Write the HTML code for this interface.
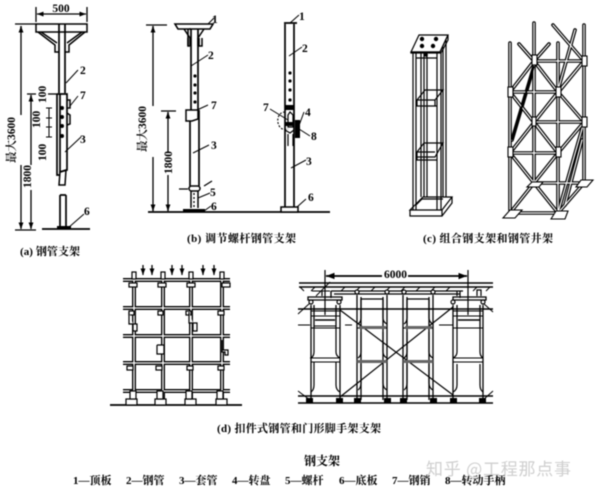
<!DOCTYPE html>
<html><head><meta charset="utf-8"><style>
html,body{margin:0;padding:0;background:#fff;width:600px;height:492px;overflow:hidden}
svg{display:block;filter:blur(.4px)}
text{font-family:"Liberation Serif","Noto Serif CJK SC",serif;fill:#000}
.n{font-size:11.5px;font-weight:600}
.c{font-size:11px;font-weight:700}
.l{font-size:11px;font-weight:700}
</style></head><body>
<svg width="600" height="492" viewBox="0 0 600 492" xmlns="http://www.w3.org/2000/svg">
<defs>
<marker id="a" viewBox="0 0 8 6" refX="8" refY="3" markerWidth="5" markerHeight="4" orient="auto-start-reverse"><path d="M0 0L8 3L0 6z" fill="#000"/></marker>
<g id="cp">
<path d="M510 43V210M534 23V183M558 43V213M584 25V183"/>
<path d="M534 61H584M510 92H558M534 122H584M510 153H558M534 183H584M510 213H558"/>
<path d="M510 92L534 61L558 92L584 61M510 92L558 153M558 92L510 153M534 122L584 61M558 92L584 122M534 122L558 153L584 122"/>
<path d="M510 153L558 213M558 153L510 213M534 183L510 213M558 213L584 183"/>
<path d="M519 44L534 61L549 44M575 30L558 90M553 25L584 61"/>
<path d="M558 213L584 122M565 205L582 140M534 66L512 140"/>
</g>
<g id="dp"><path d="M134 272V400M163 272V400M191 272V400M222 272V400"/><path d="M123 280H230M123 308H230M123 336H230M123 363H230M123 391H230"/></g>
</defs>
<rect width="600" height="492" fill="#fff"/>

<!-- a -->
<g fill="none" stroke="#000" stroke-width="1.3">
<path d="M36 7V22M87 7V22"/><path d="M37 14H86" marker-start="url(#a)" marker-end="url(#a)"/>
<path d="M15 24H36M15 230H36M21 26V115M21 165V228"/>
<path d="M21 30V26" marker-end="url(#a)"/><path d="M21 224V229" marker-end="url(#a)"/>
<path d="M27 94H36M31 95V165M31 190V228"/><path d="M31 99V95" marker-end="url(#a)"/><path d="M31 224V229" marker-end="url(#a)"/>
<path d="M48 94H57"/>
<path d="M36 24H87V32H36Z" stroke-width="1.5"/>
<path d="M59 24V93M65 24V93" stroke-width="1.7"/>
<path d="M38 32L55 45V52H59M41 32L57 43M85 32L69 45V52H65M82 32L67 43" stroke-width="1.5"/>
<path d="M57 94H67V170L60 172V94M57 94V175H60" stroke-width="1.7"/>
<path d="M60 172L66 170L65 185H59Z" stroke-width="1.5"/>
<path d="M60 195H66M60 195V227M66 195V227" stroke-width="1.7"/>
<path d="M42 229H90" stroke-width="1.7"/>
<path d="M67 100H70V108H67M67 113L70 115V124L67 125" stroke-width="1.5"/>
<path d="M46 108H52M46 118H52M46 127H52M46 137H52M49 108V137" stroke-width="1"/>
<path d="M66 83L78 70M65 152L81 137M70 106L78 96M68 228L84 214" stroke-width="1"/>
</g>
<rect x="57" y="226" width="14" height="3" fill="#000"/>
<g fill="#000"><circle cx="62" cy="108" r="2"/><circle cx="62" cy="117" r="2"/><circle cx="62" cy="126" r="2"/><circle cx="62" cy="136" r="2"/></g>
<text class="n" x="61" y="12" text-anchor="middle">500</text>
<text class="n" x="80" y="74">2</text><text class="n" x="80" y="99">7</text><text class="n" x="80" y="143">3</text><text class="n" x="84" y="215">6</text>
<text class="n" transform="translate(46,103) rotate(-90)">100</text>
<text class="n" transform="translate(40,128) rotate(-90)">100</text>
<text class="n" transform="translate(46,161) rotate(-90)">100</text>
<text class="n" transform="translate(31,188) rotate(-90)" textLength="23">1800</text>
<text class="n" transform="translate(15,163) rotate(-90)">最大3600</text>
<text class="c" x="20" y="255" textLength="60">(a) 钢管支架</text>

<!-- b -->
<g fill="none" stroke="#000" stroke-width="1.3">
<path d="M146 25H167M153 26V106M153 157V211"/><path d="M153 32V26" marker-end="url(#a)"/><path d="M153 205V211" marker-end="url(#a)"/>
<path d="M161 111H176M168 112V152M168 175V211"/><path d="M168 119V112" marker-end="url(#a)"/><path d="M168 205V211" marker-end="url(#a)"/>
<path d="M175 24H213L210 29H178Z" stroke-width="1.6"/>
<path d="M191 29V110M198 29V110" stroke-width="1.7"/>
<path d="M184 29L190 38V46M204 29L198 38V46M189 29H191M188 38V46H190" stroke-width="1.5"/>
<path d="M199 38V46H202V38M188 29V46" stroke-width="1.5"/>
<path d="M186 110H198V119L192 121H186Z" stroke-width="1.5"/>
<path d="M190 121V186M199 110V186" stroke-width="1.7"/>
<path d="M179 189H188M204 186L212 181"/>
<rect x="189" y="186" width="11" height="5" rx="2.5" stroke-width="1.5"/>
<path d="M191 191V208M198 191V208" stroke-width="1.5"/>
<path d="M194 193V208" stroke-dasharray="2 2"/>
<path d="M148 212H330" stroke-width="1.7"/>
<path d="M208 24L214 18M191 66L208 55M197 110L208 105M193 153L209 145M198 198L210 193M204 211L211 206" stroke-width="1"/>
<path d="M284 23H297M285 24V211M294 24V211" stroke-width="1.7"/>
<path d="M290 23L299 15M289 56L302 47M291 168L306 160" stroke-width="1"/>
<path d="M281 207H298V212H281Z" fill="#fff" stroke-width="1.5"/>
<path d="M297 207L306 199M297 131L304 112M299 129L310 136M270 109L288 120" stroke-width="1"/>
<path d="M285 112C274 112 276 133 288 129" stroke-dasharray="2 1.5" stroke-width="1.1"/>
<path d="M288 115V127H293V115L290 112ZM285 130L290 133L294 130M288 134V146M293 134V146" stroke-width="1.2"/>
</g>
<rect x="183" y="209" width="22" height="3" fill="#000"/>
<rect x="285" y="105" width="9" height="5" fill="#000"/>
<rect x="295" y="120" width="5" height="18" fill="#000"/>
<rect x="285" y="122" width="9" height="4" fill="#000"/>
<g fill="#000"><circle cx="195" cy="76" r="1.6"/><circle cx="195" cy="85" r="1.6"/><circle cx="195" cy="93" r="1.6"/><circle cx="195" cy="102" r="1.6"/><circle cx="290" cy="73" r="1.6"/><circle cx="290" cy="81" r="1.6"/><circle cx="290" cy="90" r="1.6"/><circle cx="290" cy="100" r="1.6"/></g>
<text class="n" x="212" y="23">1</text><text class="n" x="208" y="59">2</text><text class="n" x="211" y="109">7</text><text class="n" x="211" y="149">3</text><text class="n" x="210" y="196">5</text><text class="n" x="211" y="210">6</text>
<text class="n" x="299" y="20">1</text><text class="n" x="302" y="52">2</text><text class="n" x="263" y="111">7</text><text class="n" x="305" y="116">4</text><text class="n" x="311" y="140">8</text><text class="n" x="306" y="165">3</text><text class="n" x="308" y="201">6</text>
<text class="n" transform="translate(146,152) rotate(-90)">最大3600</text>
<text class="n" transform="translate(172,174) rotate(-90)" textLength="23">1800</text>
<text class="c" x="187" y="242" textLength="109">(b) 调节螺杆钢管支架</text>

<!-- c left -->
<g fill="none" stroke="#000" stroke-width="1.2">
<path d="M411 52L419 35H448L440 52Z" fill="#fff"/>
<path d="M411 52H440V53H411ZM440 52L448 35V40L441 53"/>
<path d="M413 53V210M416 53V210M437 53V210M441 53V210M443 47V197M446 40V197M421 53V197M424 53V197M427 53V197"/>
<path d="M416 58H437"/>
<path d="M417 100L425 90H443L435 100ZM417 100V106H435V100M417 106H437"/>
<path d="M417 152L424 143H443L435 157H417ZM417 152H435M417 157V160H437"/>
<path d="M410 210L423 197H452L442 210ZM410 210V216H442V210M442 216L452 203V197"/>
<path d="M416 205L422 199H443"/>
</g>
<g fill="#000"><circle cx="422" cy="39" r="2.2"/><circle cx="436" cy="39" r="2.2"/><circle cx="422" cy="46" r="2.2"/><circle cx="433" cy="46" r="2.2"/><circle cx="426" cy="55" r="1.8"/></g>

<!-- c right -->
<g fill="none" stroke-linecap="round">
<use href="#cp" stroke="#000" stroke-width="3.6"/>
<use href="#cp" stroke="#fff" stroke-width="1.2"/>
</g>
<g fill="#fff" stroke="#000" stroke-width="1.1">
<rect x="532" y="55" width="5" height="10"/><rect x="582" y="56" width="5" height="10"/><rect x="508" y="87" width="5" height="10"/><rect x="556" y="87" width="5" height="10"/><rect x="532" y="117" width="4" height="9"/><rect x="582" y="117" width="5" height="10"/><rect x="508" y="147" width="5" height="10"/><rect x="556" y="147" width="5" height="10"/>
<path d="M503 218L510 210H522L515 218ZM551 219L556 211H568L565 219ZM527 187L532 182H543L539 187ZM576 187L581 180H593L587 187Z"/>
</g>
<path d="M534 66L512 140" stroke="#000" stroke-width="1.8"/>
<text class="c" x="423" y="242" textLength="130">(c) 组合钢支架和钢管井架</text>

<!-- d -->
<g fill="none"><use href="#dp" stroke="#000" stroke-width="4"/><use href="#dp" stroke="#fff" stroke-width="1.3"/></g>
<g fill="none" stroke="#000" stroke-width="1.3">
<path d="M143 265V275" marker-end="url(#a)"/><path d="M152 265V275" marker-end="url(#a)"/><path d="M172 265V275" marker-end="url(#a)"/><path d="M182 265V275" marker-end="url(#a)"/><path d="M203 265V275" marker-end="url(#a)"/><path d="M214 265V275" marker-end="url(#a)"/>
<path d="M110 405H242" stroke-width="1.7"/>
</g>
<g fill="#fff" stroke="#000" stroke-width="1.2">
<rect x="126" y="399" width="11" height="6"/><rect x="155" y="399" width="11" height="6"/><rect x="185" y="399" width="11" height="6"/><rect x="216" y="399" width="11" height="6"/>
<rect x="129" y="283" width="8" height="4"/><rect x="158" y="283" width="8" height="4"/><rect x="187" y="283" width="8" height="4"/><rect x="222" y="283" width="8" height="4"/>
<rect x="129" y="311" width="5" height="4"/><rect x="158" y="311" width="5" height="4"/><rect x="186" y="311" width="5" height="4"/><rect x="218" y="311" width="6" height="4"/>
<path d="M129 312V324H133V331H137V324H133"/><path d="M189 312V323H193V331H197V323H193"/>
<path d="M157 345V354H164V345M157 345H164"/><path d="M222 340V352H225V355H228V350H222"/>
<rect x="130" y="391" width="6" height="8"/><rect x="157" y="391" width="6" height="8"/><rect x="186" y="391" width="6" height="8"/><rect x="217" y="391" width="6" height="8"/>
<rect x="127" y="366" width="6" height="4"/><rect x="156" y="366" width="6" height="4"/><rect x="187" y="366" width="6" height="4"/><rect x="218" y="366" width="6" height="4"/>
<rect x="132" y="272" width="4" height="7"/><rect x="161" y="272" width="4" height="7"/><rect x="189" y="272" width="4" height="7"/><rect x="220" y="272" width="4" height="7"/>
</g>
<text class="c" x="217" y="432" textLength="164">(d) 扣件式钢管和门形脚手架支架</text>

<!-- e -->
<g fill="none" stroke="#000">
<path d="M299 283H493M299 287H493" stroke-width="1.5"/>
<path d="M331 291H463" stroke-width="1.3"/><path d="M331 291V298M334 294H460M460 291V298" stroke-width="1.2"/>
<path d="M312 291H330M300 287L304 291M315 287L311 291M345 287L341 291M360 287L356 291M375 287L371 291M390 287L386 291M405 287L401 291M420 287L416 291M435 287L431 291M450 287L446 291M477 287L473 291M490 287L486 291" stroke-width="1"/>
<path d="M325 270V315M468 270V315" stroke-width="1.2"/>
<path d="M326 276H382M408 276H467" stroke-width="1.7" marker-start="url(#a)" marker-end="url(#a)"/>
<path d="M308 297H342V300H308ZM453 297H486V300H453Z" stroke-width="1.3"/>
<path d="M322 296V291M331 296V291M457 296V291M477 296V290H481V296" stroke-width="1.2"/>
<path d="M316 296L330 282" stroke-width="1"/>
<path d="M311 305V400M314 305V328M336 305V328M340 305V400M453 305V400M457 305V328M480 305V328M483 305V400" stroke-width="1.3"/>
<path d="M357 295V400M361 297V400M383 297V400M387 295V400M403 295V400M407 297V400M429 297V400M433 295V400" stroke-width="1.3"/>
<path d="M298 396H493M298 403H493M298 309H493M315 320H335M458 320H480" stroke-width="1.4"/>
<path d="M298 325H310M439 325H453M345 325H352M298 314L310 303M483 303L493 312M298 391L310 400M483 400L493 391" stroke-width="1"/>
<path d="M311 328H340M314 326H336M357 328H387M403 328H433M453 328H483" stroke-width="1.1"/>
<path d="M314 328V352Q314 356 311 358M336 328V352Q336 356 340 358M314 362V385Q314 390 311 392M336 362V385Q336 390 340 392" stroke-width="1.2"/>
<path d="M361 299H383M361 299V318Q361 322 358 324M383 299V318Q383 322 387 324M361 332V352Q361 356 358 358M383 332V352Q383 356 387 358M361 364V383Q361 388 358 390M383 364V383Q383 388 387 390" stroke-width="1.2"/>
<path d="M407 299H429M407 299V318Q407 322 404 324M429 299V318Q429 322 433 324M407 332V352Q407 356 404 358M429 332V352Q429 356 433 358M407 364V383Q407 388 404 390M429 364V383Q429 388 433 390" stroke-width="1.2"/>
<path d="M457 328V352Q457 356 453 358M480 328V352Q480 356 483 358M457 364V385Q457 390 453 392M480 364V385Q480 390 483 392" stroke-width="1.2"/>
<path d="M340 310L453 395M340 397L453 307" stroke-width="1.2"/>
<path d="M311 362H340M357 362H387M403 362H433M453 362H483M310 358H340M453 358H483" stroke-width="1.1"/>
<path d="M311 311H340M453 311H483M311 316H340M453 316H483" stroke-width="1.1"/>
</g>
<g fill="#666"><rect x="359" y="326" width="27" height="3"/><rect x="405" y="326" width="27" height="3"/><rect x="357" y="360" width="30" height="3"/><rect x="403" y="360" width="30" height="3"/></g>
<g fill="#fff" stroke="#000" stroke-width="1.2">
<circle cx="311" cy="302" r="2"/><circle cx="339" cy="302" r="2"/><circle cx="357" cy="292" r="2"/><circle cx="387" cy="292" r="2"/><circle cx="404" cy="292" r="2"/><circle cx="433" cy="292" r="2"/><circle cx="453" cy="302" r="2"/><circle cx="483" cy="302" r="2"/>
</g>
<g fill="#000"><rect x="306" y="398" width="7" height="5"/><rect x="336" y="398" width="7" height="5"/><rect x="354" y="398" width="7" height="5"/><rect x="384" y="398" width="7" height="5"/><rect x="400" y="398" width="7" height="5"/><rect x="430" y="398" width="7" height="5"/><rect x="450" y="398" width="7" height="5"/><rect x="479" y="398" width="7" height="5"/></g>
<text class="n" x="384" y="278">6000</text>

<!-- footer -->
<text x="304" y="465" font-size="12" font-weight="700">钢支架</text>
<text class="l" x="73" y="484">1—顶板</text>
<text class="l" x="126" y="484">2—钢管</text>
<text class="l" x="179" y="484">3—套管</text>
<text class="l" x="232" y="484">4—转盘</text>
<text class="l" x="285" y="484">5—螺杆</text>
<text class="l" x="339" y="484">6—底板</text>
<text class="l" x="392" y="484">7—钢销</text>
<text class="l" x="445" y="484">8—转动手柄</text>
<text x="426" y="475" font-size="17" textLength="145" style="font-family:'Noto Sans CJK SC',sans-serif;fill:#cfcfcf">知乎 @工程那点事</text>
</svg>
</body></html>
